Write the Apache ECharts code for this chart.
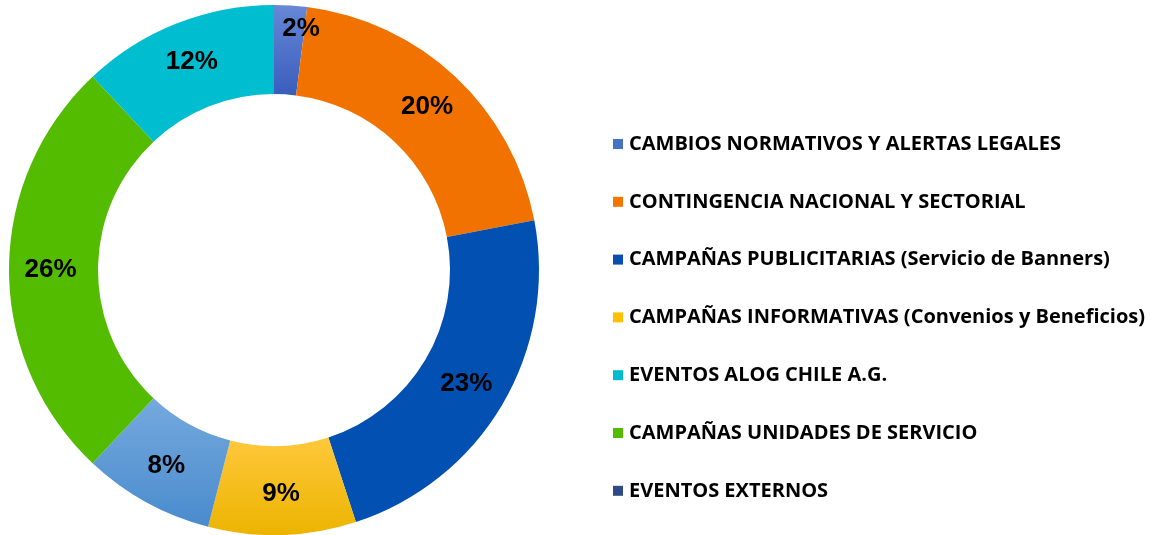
<!DOCTYPE html>
<html>
<head>
<meta charset="utf-8">
<script src="https://cdn.jsdelivr.net/npm/echarts@6/dist/echarts.min.js"></script>
<style>
  html, body { margin: 0; padding: 0; background: #fff; }
  #chartBox { width: 1151px; height: 535px; }
</style>
</head>
<body>
<div id="chartBox"></div>
<script>
  // slices in clockwise order starting at 12 o'clock
  const sliceNames = [
    'CAMBIOS NORMATIVOS Y ALERTAS LEGALES',
    'CONTINGENCIA NACIONAL Y SECTORIAL',
    'CAMPAÑAS PUBLICITARIAS (Servicio de Banners)',
    'CAMPAÑAS INFORMATIVAS (Convenios y Beneficios)',
    'EVENTOS EXTERNOS',
    'CAMPAÑAS UNIDADES DE SERVICIO',
    'EVENTOS ALOG CHILE A.G.'
  ]
  const sliceValues = [2, 20, 23, 9, 8, 26, 12]

  // legend order as shown on the right
  const legendNames = [
    'CAMBIOS NORMATIVOS Y ALERTAS LEGALES',
    'CONTINGENCIA NACIONAL Y SECTORIAL',
    'CAMPAÑAS PUBLICITARIAS (Servicio de Banners)',
    'CAMPAÑAS INFORMATIVAS (Convenios y Beneficios)',
    'EVENTOS ALOG CHILE A.G.',
    'CAMPAÑAS UNIDADES DE SERVICIO',
    'EVENTOS EXTERNOS'
  ]

  const grad = (top, bottom) => new echarts.graphic.LinearGradient(0, 0, 0, 1, [
    { offset: 0, color: top }, { offset: 1, color: bottom }
  ])

  const sliceColors = {
    'CAMBIOS NORMATIVOS Y ALERTAS LEGALES': grad('#6688d6', '#3a5dbd'),
    'CONTINGENCIA NACIONAL Y SECTORIAL': '#f27200',
    'CAMPAÑAS PUBLICITARIAS (Servicio de Banners)': '#0250b2',
    'CAMPAÑAS INFORMATIVAS (Convenios y Beneficios)': grad('#ffc83c', '#ecb400'),
    'EVENTOS EXTERNOS': grad('#74a9de', '#4a8bcd'),
    'CAMPAÑAS UNIDADES DE SERVICIO': '#53bb00',
    'EVENTOS ALOG CHILE A.G.': '#00bed0'
  }
  const legendColors = {
    'CAMBIOS NORMATIVOS Y ALERTAS LEGALES': '#4472c4',
    'CONTINGENCIA NACIONAL Y SECTORIAL': '#f47500',
    'CAMPAÑAS PUBLICITARIAS (Servicio de Banners)': '#0a4fb0',
    'CAMPAÑAS INFORMATIVAS (Convenios y Beneficios)': '#ffc000',
    'EVENTOS ALOG CHILE A.G.': '#00bcd0',
    'CAMPAÑAS UNIDADES DE SERVICIO': '#55bb00',
    'EVENTOS EXTERNOS': '#2f4a86'
  }

  const chart = echarts.init(document.getElementById('chartBox'))
  const option = {
    animation: false,
    legend: {
      orient: 'vertical',
      left: 613,
      top: 134,
      padding: 0,
      itemWidth: 10,
      itemHeight: 10,
      itemGap: 37.8,
      icon: 'rect',
      textStyle: {
        fontFamily: 'Open Sans',
        fontWeight: 'bold',
        fontSize: 20,
        color: '#000',
        padding: [0, 0, 0, 1]
      },
      data: legendNames.map(n => ({ name: n, itemStyle: { color: legendColors[n] } }))
    },
    series: [
      {
        type: 'pie',
        center: [274, 270],
        radius: [176, 265],
        startAngle: 90,
        clockwise: true,
        avoidLabelOverlap: false,
        label: {
          show: true,
          position: 'inside',
          formatter: '{c}%',
          fontFamily: 'Liberation Sans',
          fontWeight: 'bold',
          fontSize: 26,
          color: '#000'
        },
        labelLine: { show: false },
        emphasis: { disabled: true },
        data: sliceNames.map((n, i) => ({
          name: n,
          value: sliceValues[i],
          itemStyle: { color: sliceColors[n] },
          // the tiny top slice has its label nudged up and right, as in the original
          label: i === 0 ? { offset: [13, -18] } : undefined
        }))
      }
    ]
  }
  option && chart.setOption(option)
</script>
</body>
</html>
